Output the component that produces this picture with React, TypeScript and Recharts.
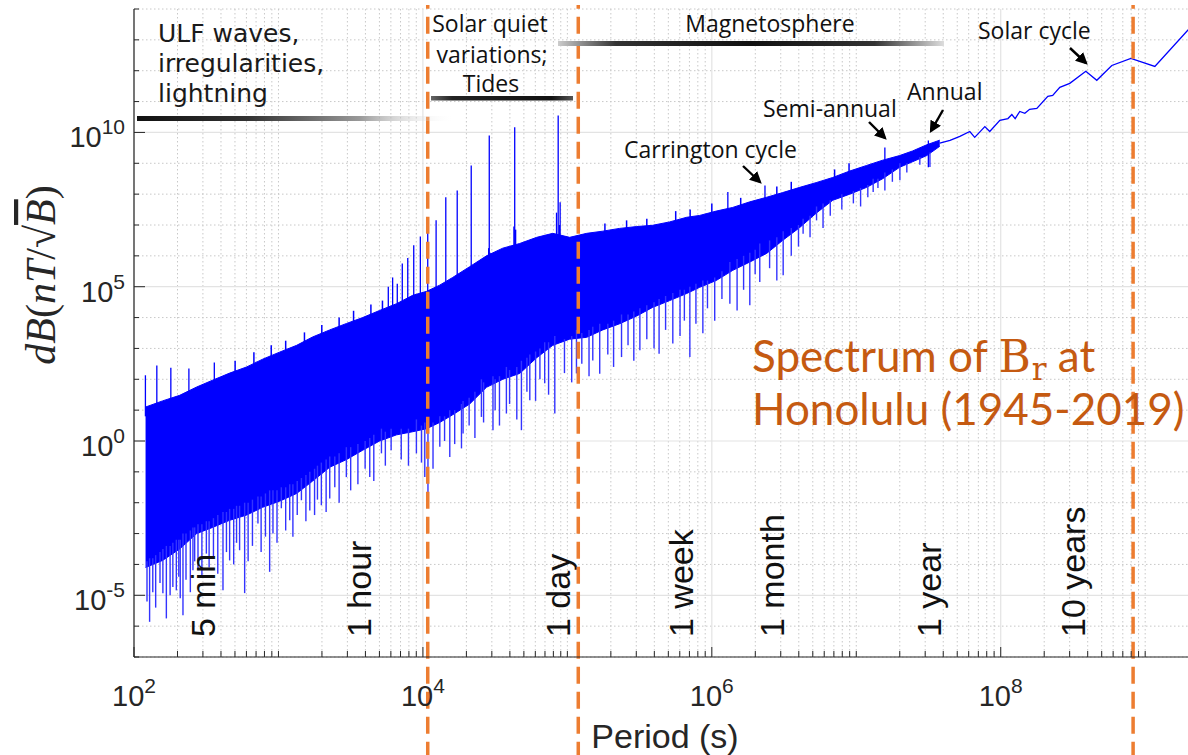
import React from 'react';
import { ComposedChart, Area, Line, XAxis, YAxis, ReferenceLine, CartesianGrid } from 'recharts';

// ---- Spectrum band (log10 of period in s, log10 of upper / lower envelope of dB) ----
const bandLogPeriod = [2.08, 2.198, 2.316, 2.434, 2.544, 2.662, 2.78, 2.89, 3.008, 3.126, 3.236, 3.355, 3.472, 3.583, 3.7, 3.818, 3.929, 4.026, 4.116, 4.206, 4.324, 4.44, 4.553, 4.67, 4.788, 4.899, 5.016, 5.134, 5.245, 5.362, 5.48, 5.59, 5.708, 5.826, 5.916, 6.03, 6.145, 6.263, 6.38, 6.49, 6.609, 6.727, 6.837, 6.955, 7.072, 7.183, 7.3, 7.39, 7.488, 7.578];
const bandLogUpper = [1.1, 1.3, 1.48, 1.75, 1.97, 2.2, 2.4, 2.65, 2.88, 3.1, 3.37, 3.6, 3.81, 4.0, 4.23, 4.45, 4.72, 4.85, 5.05, 5.3, 5.65, 6.0, 6.25, 6.4, 6.6, 6.73, 6.6, 6.73, 6.8, 6.89, 6.95, 6.99, 7.1, 7.25, 7.31, 7.45, 7.57, 7.75, 7.9, 8.05, 8.22, 8.38, 8.54, 8.75, 8.93, 9.1, 9.25, 9.4, 9.6, 9.75];
const bandLogLower = [-4.1, -3.87, -3.5, -3.0, -2.8, -2.57, -2.4, -2.15, -1.95, -1.7, -1.3, -0.85, -0.6, -0.3, 0.0, 0.2, 0.3, 0.4, 0.6, 0.85, 1.2, 1.74, 2.0, 2.19, 2.7, 3.1, 3.3, 3.36, 3.6, 3.8, 4.05, 4.33, 4.55, 4.78, 4.98, 5.2, 5.53, 5.8, 6.08, 6.5, 6.92, 7.4, 7.8, 8.0, 8.22, 8.5, 8.87, 9.05, 9.25, 9.55];

// ---- Long-period tail (single line) ----
const tailLogPeriod = [7.578, 7.649, 7.717, 7.786, 7.82, 7.89, 7.924, 7.994, 8.05, 8.077, 8.1, 8.132, 8.167, 8.2, 8.25, 8.326, 8.36, 8.409, 8.478, 8.589, 8.665, 8.769, 8.901, 9.067, 9.37];
const tailLogValue = [9.65, 9.74, 9.87, 10.03, 9.84, 10.19, 10.03, 10.39, 10.45, 10.58, 10.45, 10.68, 10.62, 10.75, 10.78, 11.17, 11.2, 11.46, 11.59, 11.98, 11.69, 12.17, 12.4, 12.14, 13.7];

// ---- Upward spectral peaks: [log10 period, log10 base, log10 top] ----
const upSpikes: number[][] = [
  [2.079, 0.8, 2.13], [2.158, 1.0, 2.45], [2.255, 1.2, 2.37], [2.38, 1.5, 2.35], [2.556, 1.8, 2.54],
  [3.7604, 3.8, 5.0], [3.7904, 3.9, 5.3], [3.8226, 4.0, 5.1], [3.8573, 4.2, 5.75], [3.8951, 4.3, 5.93],
  [3.9365, 4.4, 6.34], [3.9823, 4.5, 6.63], [4.0334, 4.6, 6.9], [4.0914, 4.7, 7.15], [4.1584, 4.8, 7.9],
  [4.2375, 5.0, 8.12], [4.3345, 5.3, 8.93], [4.455, 5.8, 6.25], [4.4594, 5.8, 9.9], [4.465, 5.8, 6.1],
  [4.63, 6.0, 6.95], [4.6355, 6.0, 10.17], [4.642, 6.0, 6.85], [4.925, 6.4, 7.4], [4.9365, 6.4, 10.55],
  [4.945, 6.4, 7.0], [4.95, 6.4, 7.74], [6.111, 7.3, 8.07], [6.368, 7.6, 8.28], [7.198, 8.9, 9.51], [7.499, 8.87, 9.74],
];

// ---- Small ripples on the upper edge: [log10 period, log10 base, log10 top] ----
const edgeRipples: number[][] = [
  [2.7, 2.0, 2.6], [2.83, 2.3, 2.88], [2.95, 2.5, 3.1], [3.05, 2.7, 3.25], [3.18, 3.0, 3.52], [3.3, 3.2, 3.76],
  [3.42, 3.4, 4.0], [3.52, 3.6, 4.22], [3.64, 3.8, 4.42], [3.72, 4.0, 4.55],
  [5.26, 6.5, 7.05], [5.41, 6.6, 7.15], [5.55, 6.7, 7.2], [5.75, 6.9, 7.45], [5.85, 7.0, 7.5],
  [6.0, 7.1, 7.7], [6.2, 7.4, 7.88], [6.45, 7.7, 8.25], [6.55, 7.9, 8.4], [6.85, 8.3, 8.8], [6.95, 8.5, 9.0],
];

// ---- Downward dips: [log10 period, log10 top, log10 bottom] ----
const downSpikes: number[][] = [
  [2.108, -3.8, -5.86], [2.2, -3.5, -4.93], [2.224, -3.4, -5.75], [2.269, -3.3, -4.73], [2.293, -3.2, -4.84],
  [2.339, -3.0, -5.65], [2.408, -2.8, -4.19], [2.443, -2.7, -4.19], [2.501, -2.6, -3.65], [2.616, -2.3, -4.84],
  [2.662, -2.2, -3.87], [2.731, -2.1, -3.54], [2.766, -2.0, -4.93], [2.858, -1.8, -2.67], [2.939, -1.6, -4.24],
  [2.962, -1.6, -3.0], [3.02, -1.5, -2.18], [3.078, -1.4, -2.57], [3.159, -1.2, -1.92], [3.217, -1.0, -2.25],
  [3.297, -0.7, -2.08], [3.355, -0.5, -1.86], [3.47, -0.2, -1.17], [3.632, 0.1, -1.17], [3.713, 0.4, -0.4],
  [3.955, 0.7, -0.4], [4.013, 0.6, -1.17], [4.035, 0.6, -1.7], [4.117, 0.8, -0.19], [4.186, 1.0, -0.52],
  [4.267, 1.2, -0.24], [4.278, 1.3, 0.24], [4.405, 2.0, 0.78], [4.485, 2.1, 0.35], [4.578, 2.4, 0.89],
  [4.682, 2.6, 0.35], [4.74, 2.8, 1.32], [4.843, 3.2, 1.87], [4.913, 3.4, 0.89], [5.063, 3.6, 2.19],
  [5.176, 3.7, 2.61], [5.224, 3.8, 2.18], [5.375, 4.1, 2.72], [5.502, 4.3, 2.94], [5.635, 4.6, 2.83],
  [5.73, 4.8, 3.16], [5.848, 5.0, 2.72], [5.938, 5.2, 3.49], [6.125, 5.8, 4.45], [6.175, 5.9, 4.23],
  [6.263, 6.1, 4.4], [6.332, 6.4, 5.15], [6.494, 6.8, 5.37], [6.632, 7.2, 6.72], [6.725, 7.6, 7.15],
  [7.117, 8.5, 8.07], [7.198, 8.7, 8.12], [7.302, 9.0, 8.45], [7.51, 9.35, 8.88],
  [2.09, -3.9, -5.2], [2.13, -3.8, -4.9], [2.15, -3.7, -5.4], [2.18, -3.6, -4.6], [2.25, -3.4, -5.0],
  [2.31, -3.2, -4.4], [2.32, -3.2, -5.1], [2.36, -3.0, -4.5], [2.39, -2.9, -4.9], [2.42, -2.8, -3.9],
  [2.47, -2.7, -4.4], [2.52, -2.6, -4.1], [2.55, -2.5, -3.8], [2.58, -2.4, -4.3], [2.64, -2.3, -3.6],
  [2.69, -2.2, -4.0], [2.71, -2.1, -3.3], [2.79, -2.0, -3.9], [2.82, -1.9, -3.4], [2.88, -1.8, -3.6],
  [2.91, -1.7, -3.1], [2.99, -1.6, -3.3], [3.05, -1.5, -2.9], [3.1, -1.4, -3.1], [3.13, -1.3, -2.4],
  [3.19, -1.1, -2.6], [3.25, -0.9, -2.4], [3.27, -0.8, -1.9], [3.33, -0.6, -2.3], [3.39, -0.5, -1.5],
  [3.42, -0.4, -2.0], [3.5, -0.2, -1.6], [3.55, -0.1, -1.4], [3.6, 0.0, -0.9], [3.66, 0.2, -1.3],
  [3.74, 0.3, -0.8], [3.78, 0.4, -0.3], [3.85, 0.4, -0.6], [3.9, 0.4, -0.8], [3.99, 0.5, -0.7],
  [4.07, 0.6, -0.9], [4.15, 0.8, 0.0], [4.22, 1.0, -0.1], [4.32, 1.4, 0.5], [4.36, 1.6, 0.1],
  [4.42, 1.9, 0.6], [4.5, 2.0, 1.0], [4.53, 2.1, 0.5], [4.6, 2.3, 1.2], [4.65, 2.4, 0.7],
  [4.72, 2.7, 1.6], [4.78, 2.9, 1.3], [4.81, 3.0, 2.0], [4.87, 3.2, 1.5], [4.98, 3.3, 2.2],
  [5.03, 3.4, 1.9], [5.1, 3.5, 2.5], [5.15, 3.6, 2.1], [5.28, 3.8, 2.8], [5.32, 3.9, 2.4],
  [5.42, 4.1, 3.1], [5.46, 4.2, 2.6], [5.55, 4.4, 3.3], [5.6, 4.5, 3.0], [5.68, 4.7, 3.6],
  [5.78, 4.9, 3.4], [5.81, 4.9, 3.9], [5.89, 5.1, 3.8], [5.97, 5.2, 4.3], [6.02, 5.3, 3.9],
  [6.07, 5.5, 4.6], [6.22, 6.0, 4.9], [6.3, 6.2, 5.4], [6.4, 6.5, 5.6], [6.45, 6.6, 5.2],
  [6.55, 6.9, 6.0], [6.6, 7.0, 6.3], [6.68, 7.3, 6.6], [6.77, 7.7, 6.9], [6.82, 7.8, 7.3],
  [6.9, 8.0, 7.5], [6.98, 8.1, 7.7], [7.03, 8.2, 7.6], [7.08, 8.3, 7.9], [7.15, 8.5, 8.2],
  [7.25, 8.8, 8.4], [7.35, 9.0, 8.7], [7.44, 9.2, 8.95],
];

// ---- Boundaries (orange dashed) in seconds ----
const boundaryPeriods = [10800, 1.19e5, 8.25e8];

// ---- Time-scale labels ----
const periodLabels = ['5 min', '1 hour', '1 day', '1 week', '1 month', '1 year', '10 years'];
const periodLabelSeconds = [300, 3600, 86400, 604800, 2592000, 31557600, 315576000];

// ---- Axes ----
const xDomain = [1e2, Math.pow(10, 9.5)];
const yDomain = [1e-7, 1e14];
const xLabelTicks = [1e2, 1e4, 1e6, 1e8];
const yLabelTicks = [1e-5, 1e0, 1e5, 1e10];

const xAllTicks: number[] = [];
for (let e = 2; e <= 9; e++) {
  for (let m = 1; m <= 9; m++) {
    const v = m * Math.pow(10, e);
    if (v <= xDomain[1] + 1) xAllTicks.push(v);
  }
}
const yAllTicks: number[] = [];
for (let e = -7; e <= 14; e++) yAllTicks.push(Math.pow(10, e));

const xMinorTicks = xAllTicks.filter((v) => !xLabelTicks.some((t) => Math.abs(t - v) < 1e-6 * v));
const yMinorTicks = yAllTicks.filter((v) => !yLabelTicks.some((t) => Math.abs(t - v) < 1e-6 * v));

const pow10 = (e: number) => Math.pow(10, e);
const bandRows = bandLogPeriod.map((lp, i) => ({ p: pow10(lp), range: [pow10(bandLogLower[i]), pow10(bandLogUpper[i])] }));
const tailRows = tailLogPeriod.map((lp, i) => ({ p: pow10(lp), v: pow10(tailLogValue[i]) }));

const AX = '#262626';
const BLUE = '#0000ff';
const ORANGE = '#ed7d31';

const isClose = (a: number, b: number) => Math.abs(a - b) < 1e-6 * Math.max(a, b);
const expOf = (v: number) => Math.round(Math.log10(v));

const BottomTick = (props: any) => {
  const { x, y, payload } = props;
  const major = xLabelTicks.some((t) => isClose(t, payload.value));
  return (
    <g>
      <line x1={x} x2={x} y1={y} y2={y - (major ? 10 : 6)} stroke={AX} strokeWidth={1} />
      {major && (
        <text x={x} y={y + 49} textAnchor="middle" fontFamily="Liberation Sans, Arial, sans-serif" fontSize={29} fill={AX}>
          10<tspan dy={-13} fontSize={21}>{expOf(payload.value)}</tspan>
        </text>
      )}
    </g>
  );
};

const TopTick = (props: any) => {
  const { x, y, payload } = props;
  const major = xLabelTicks.some((t) => isClose(t, payload.value));
  return <line x1={x} x2={x} y1={y} y2={y + (major ? 10 : 6)} stroke={AX} strokeWidth={1} />;
};

const LeftTick = (props: any) => {
  const { x, y, payload } = props;
  const major = yLabelTicks.some((t) => isClose(t, payload.value));
  return (
    <g>
      <line x1={x} x2={x + (major ? 11 : 5)} y1={y} y2={y} stroke={AX} strokeWidth={1} />
      {major && (
        <text x={x - 9} y={y + 15} textAnchor="end" fontFamily="Liberation Sans, Arial, sans-serif" fontSize={29} fill={AX}>
          10<tspan dy={-13} fontSize={21}>{expOf(payload.value)}</tspan>
        </text>
      )}
    </g>
  );
};

const PeriodLabel = (text: string) => (props: any) => {
  const vb = props.viewBox || {};
  const x = vb.x ?? 0;
  const bottom = (vb.y ?? 0) + (vb.height ?? 0);
  const ty = bottom - 20;
  return (
    <text x={x} y={ty} transform={`rotate(-90 ${x} ${ty})`} dy="0.36em" fontFamily="Liberation Sans, Arial, sans-serif" fontSize={34} fill="#111">
      {text}
    </text>
  );
};

const annFont = "'Open Sans', 'Noto Sans', sans-serif";

export default function App() {
  return (
    <div style={{ position: 'absolute', left: 0, top: 0, width: 1188, height: 755, overflow: 'hidden', background: '#fff' }}>
      <ComposedChart width={1240} height={755} margin={{ top: 9, right: 22.6, bottom: 0, left: 0 }}>
        <CartesianGrid horizontalValues={yMinorTicks} verticalValues={xMinorTicks} stroke="#c8c8c8" strokeDasharray="1.5 2.5" strokeWidth={1} />
        <CartesianGrid horizontalValues={yLabelTicks} verticalValues={xLabelTicks} stroke="#e3e3e3" strokeWidth={1.2} />
        <XAxis
          type="number"
          dataKey="p"
          scale="log"
          domain={xDomain}
          allowDataOverflow
          ticks={xAllTicks}
          interval={0}
          tickSize={0}
          tickMargin={0}
          tickLine={false}
          tick={<BottomTick />}
          axisLine={{ stroke: AX, strokeWidth: 1.2 }}
          height={98}
        />
        <XAxis
          xAxisId="top"
          orientation="top"
          type="number"
          dataKey="p"
          scale="log"
          domain={xDomain}
          allowDataOverflow
          ticks={xAllTicks}
          interval={0}
          tickSize={0}
          tickMargin={0}
          tickLine={false}
          tick={<TopTick />}
          axisLine={{ stroke: AX, strokeWidth: 1.2 }}
          height={0}
        />
        <YAxis
          type="number"
          scale="log"
          domain={yDomain}
          allowDataOverflow
          ticks={yAllTicks}
          interval={0}
          tickSize={0}
          tickMargin={0}
          tickLine={false}
          tick={<LeftTick />}
          axisLine={{ stroke: AX, strokeWidth: 1.2 }}
          width={134}
        />
        <Area data={bandRows} dataKey="range" type="linear" fill={BLUE} fillOpacity={1} stroke={BLUE} strokeWidth={1} isAnimationActive={false} dot={false} activeDot={false} />
        <Line data={tailRows} dataKey="v" type="linear" stroke={BLUE} strokeWidth={1.3} dot={false} activeDot={false} isAnimationActive={false} />
        {upSpikes.map((s, i) => (
          <ReferenceLine key={'u' + i} segment={[{ x: pow10(s[0]), y: pow10(s[1]) }, { x: pow10(s[0]), y: pow10(s[2]) }]} stroke={BLUE} strokeWidth={1.3} ifOverflow="visible" />
        ))}
        {edgeRipples.map((s, i) => (
          <ReferenceLine key={'r' + i} segment={[{ x: pow10(s[0]), y: pow10(s[1]) }, { x: pow10(s[0]), y: pow10(s[2]) }]} stroke={BLUE} strokeWidth={1.5} ifOverflow="visible" />
        ))}
        {downSpikes.map((s, i) => (
          <ReferenceLine key={'d' + i} segment={[{ x: pow10(s[0]), y: pow10(s[1]) }, { x: pow10(s[0]), y: pow10(s[2]) }]} stroke="#3333ff" strokeWidth={1.4} ifOverflow="visible" />
        ))}
        {periodLabelSeconds.map((p, i) => (
          <ReferenceLine key={'pl' + i} x={p} stroke="none" ifOverflow="visible" label={{ content: PeriodLabel(periodLabels[i]) }} />
        ))}
        {boundaryPeriods.map((p, i) => (
          <ReferenceLine key={'b' + i} segment={[{ x: p, y: pow10(-10.3) }, { x: p, y: pow10(14.13) }]} stroke={ORANGE} strokeWidth={3.5} strokeDasharray="17 8" ifOverflow="visible" />
        ))}
      </ComposedChart>

      <svg width={1188} height={755} style={{ position: 'absolute', left: 0, top: 0, pointerEvents: 'none' }}>
        <defs>
          <linearGradient id="gUlf" x1="0" x2="1" y1="0" y2="0">
            <stop offset="0" stopColor="#111" />
            <stop offset="0.35" stopColor="#333" />
            <stop offset="0.7" stopColor="#999" />
            <stop offset="1" stopColor="#fff" stopOpacity="0" />
          </linearGradient>
          <linearGradient id="gTides" x1="0" x2="1" y1="0" y2="0">
            <stop offset="0" stopColor="#666" />
            <stop offset="0.15" stopColor="#222" />
            <stop offset="0.85" stopColor="#111" />
            <stop offset="1" stopColor="#555" />
          </linearGradient>
          <linearGradient id="gMag" x1="0" x2="1" y1="0" y2="0">
            <stop offset="0" stopColor="#ccc" />
            <stop offset="0.15" stopColor="#333" />
            <stop offset="0.5" stopColor="#111" />
            <stop offset="0.82" stopColor="#333" />
            <stop offset="1" stopColor="#ddd" />
          </linearGradient>
          <marker id="arr" viewBox="0 0 10 10" refX="8" refY="5" markerWidth="5" markerHeight="5" orient="auto-start-reverse">
            <path d="M0,0 L10,5 L0,10 z" fill="#000" />
          </marker>
        </defs>

        <rect x={137} y={116} width={318} height={5} fill="url(#gUlf)" />
        <rect x={431} y={96} width={142} height={4.5} fill="url(#gTides)" />
        <rect x={558} y={41} width={386} height={5} fill="url(#gMag)" />

        <g fontFamily="'DejaVu Sans', Verdana, sans-serif" fontSize={25} fill="#1a1a1a">
          <text x={158} y={42}>ULF waves,</text>
          <text x={158} y={72}>irregularities,</text>
          <text x={158} y={102}>lightning</text>
        </g>

        <g fontFamily={annFont} fontSize={23} fill="#111">
          <text x={490} y={32} textAnchor="middle">Solar quiet</text>
          <text x={492} y={63} textAnchor="middle">variations;</text>
          <text x={491} y={92} textAnchor="middle">Tides</text>
          <text x={770} y={32} textAnchor="middle">Magnetosphere</text>
          <text x={624} y={158}>Carrington cycle</text>
          <text x={763} y={117}>Semi-annual</text>
          <text x={907} y={100}>Annual</text>
          <text x={978} y={39}>Solar cycle</text>
        </g>

        <g stroke="#000" strokeWidth={2.4} markerEnd="url(#arr)">
          <line x1={743} y1={166} x2={760} y2={182} />
          <line x1={869} y1={122} x2={885} y2={138} />
          <line x1={943} y1={110} x2={931} y2={131} />
          <line x1={1070} y1={48} x2={1086} y2={63} />
        </g>

        <g fontFamily="Lato, Carlito, Calibri, sans-serif" fontSize={44} fill="#c55a11">
          <text x={752} y={372}>
            Spectrum of <tspan fontFamily="'DejaVu Serif', 'Liberation Serif', serif">B</tspan>
            <tspan fontFamily="'DejaVu Serif', 'Liberation Serif', serif" fontSize={31} dx={1} dy={8}>r</tspan>
            <tspan dy={-8}> at</tspan>
          </text>
          <text x={752} y={425}>Honolulu (1945-2019)</text>
        </g>

        <text x={665} y={748} textAnchor="middle" fontFamily="Liberation Sans, Arial, sans-serif" fontSize={34} fill={AX}>Period (s)</text>

        <text transform="translate(55 275) rotate(-90)" textAnchor="middle" fontFamily="'Liberation Serif', 'DejaVu Serif', serif" fontSize={42} fill={AX}>
          <tspan fontStyle="italic">dB</tspan>(<tspan fontStyle="italic">nT</tspan>/√<tspan fontStyle="italic" textDecoration="overline">B</tspan>)
        </text>
      </svg>
    </div>
  );
}
